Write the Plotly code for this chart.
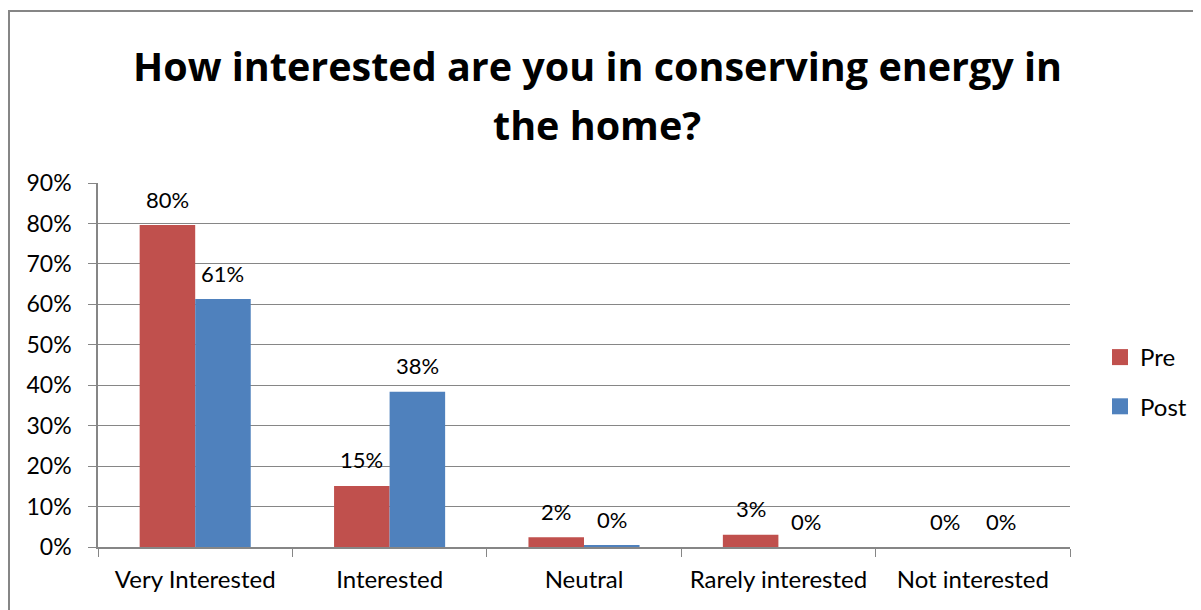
import plotly.graph_objects as go

categories = ["Very Interested", "Interested", "Neutral", "Rarely interested", "Not interested"]
pre_values = [0.796, 0.151, 0.024, 0.030, 0.0]
post_values = [0.613, 0.384, 0.004, 0.0, 0.0]
y_ticks = [0, 0.1, 0.2, 0.3, 0.4, 0.5, 0.6, 0.7, 0.8, 0.9]
y_tick_labels = ["0%", "10%", "20%", "30%", "40%", "50%", "60%", "70%", "80%", "90%"]
title_lines = ["How interested are you in conserving energy in", "the home?"]

FONT = "Lato"
TFONT = "Open Sans"
OFF = 8  # page body margin
W, H = 1201 - OFF, 610 - OFF
# desired page positions of plot area
PL, PR, PT, PB = 98, 1070, 183, 547
ML = PL - OFF
MT = PT - OFF
MR = W - (PR - OFF)
MB = H - (PB - OFF)
pw = W - ML - MR
ph = H - MT - MB

def px_x(p):  # page x -> paper
    return (p - OFF - ML) / pw
def px_y(p):  # page y -> paper
    return (H - MB - (p - OFF)) / ph

PRE_C, POST_C = "#C0504D", "#4F81BD"

fig = go.Figure()
fig.add_trace(go.Bar(name="Pre", x=categories, y=pre_values, marker_color=PRE_C,
                     marker_line_width=0, showlegend=False, offsetgroup="pre"))
fig.add_trace(go.Bar(name="Post", x=categories, y=post_values, marker_color=POST_C,
                     marker_line_width=0, showlegend=False, offsetgroup="post"))
# legend entries
fig.add_trace(go.Scatter(name="Pre", x=[None], y=[None], mode="markers",
                         marker=dict(symbol="square", size=16, color=PRE_C), legendgroup="a"))
fig.add_trace(go.Scatter(name="Post", x=[None], y=[None], mode="markers",
                         marker=dict(symbol="square", size=16, color=POST_C), legendgroup="b"))

annotations = []
cat_w = pw / len(categories)
bar_w = cat_w / 3.5
for series, shift in ((pre_values, -bar_w / 2), (post_values, bar_w / 2)):
    for c, v in zip(categories, series):
        annotations.append(dict(
            x=c, y=v, xref="x", yref="y", text=f"{round(v * 100):d}%",
            showarrow=False, xshift=shift, yshift=26, yanchor="middle",
            font=dict(size=22, family=FONT, color="black"),
        ))
for line, yc in zip(title_lines, (66, 125)):
    annotations.append(dict(
        x=px_x(597), y=px_y(yc), xref="paper", yref="paper", text=f"<b>{line}</b>",
        showarrow=False, xanchor="center", yanchor="middle",
        font=dict(size=39.5, family=TFONT, color="black"),
    ))

fig.update_layout(
    width=W, height=H,
    margin=dict(l=ML, r=MR, t=MT, b=MB, autoexpand=False),
    paper_bgcolor="white", plot_bgcolor="white",
    barmode="group", bargap=1.5 / 3.5, bargroupgap=0,
    font=dict(family=FONT, size=22, color="black"),
    legend=dict(
        x=px_x(1100), xanchor="left", y=px_y(382), yanchor="middle",
        font=dict(size=24, family=FONT), tracegroupgap=15,
        bgcolor="rgba(0,0,0,0)", itemsizing="trace",
    ),
    showlegend=True,
    xaxis=dict(
        showline=True, linecolor="#868686", linewidth=1.5,
        ticks="outside", tickson="boundaries", ticklen=8, tickcolor="#868686",
        tickfont=dict(size=24, family=FONT), showgrid=False, ticklabelstandoff=10,
        range=[-0.5, 4.5],
    ),
    yaxis=dict(
        range=[0, 0.9], tickvals=y_ticks, ticktext=y_tick_labels,
        showline=True, linecolor="#868686", linewidth=1.5,
        ticks="outside", ticklen=8, tickcolor="#868686",
        showgrid=True, gridcolor="#868686", gridwidth=1.2,
        tickfont=dict(size=23, family=FONT), zeroline=False, ticklabelstandoff=12,
    ),
    annotations=annotations,
    shapes=[dict(
        type="rect", xref="paper", yref="paper",
        x0=px_x(9), x1=px_x(1230), y0=px_y(640), y1=px_y(11),
        line=dict(color="#868686", width=2), fillcolor="rgba(0,0,0,0)", layer="below",
    )],
)

fig.write_html("out.html")
